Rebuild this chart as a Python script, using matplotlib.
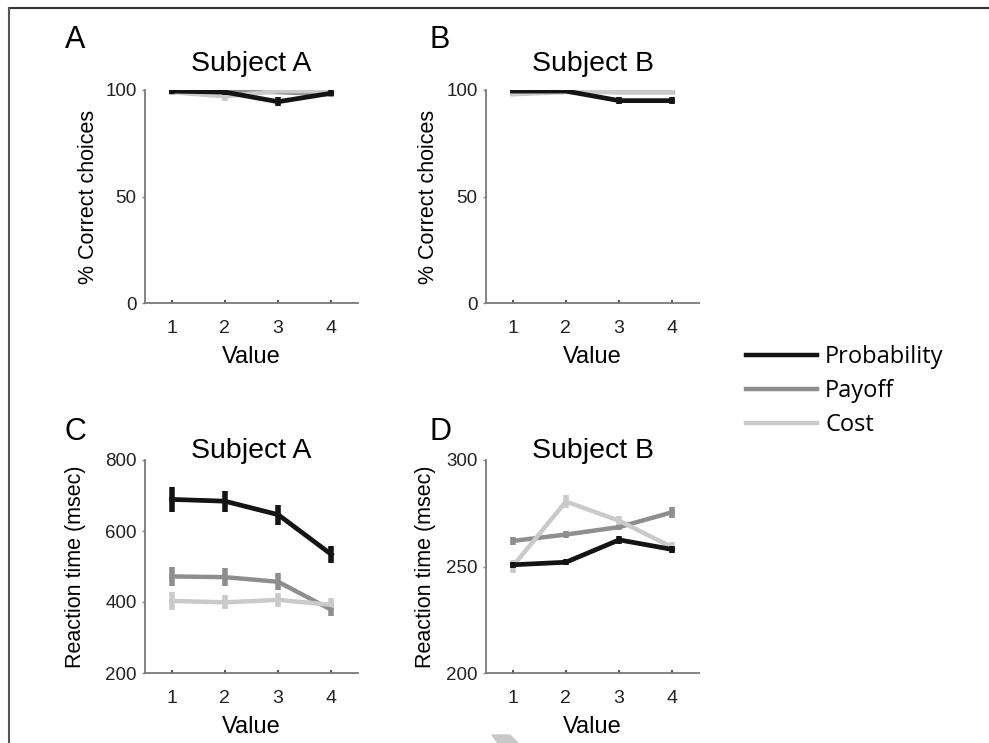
import matplotlib
matplotlib.use("Agg")
import matplotlib.pyplot as plt
from matplotlib.lines import Line2D
from matplotlib.patches import Polygon
import numpy as np

plt.rcParams['font.family'] = ['Liberation Sans', 'DejaVu Sans']

# data
values = [1, 2, 3, 4]
series = ['Probability', 'Payoff', 'Cost']
colors = {'Probability': '#141414', 'Payoff': '#8e8e8e', 'Cost': '#cacaca'}

# % correct choices
correct_a = {'Probability': [99.5, 99.0, 94.5, 98.5],
             'Payoff': [99.0, 99.5, 99.0, 98.0],
             'Cost': [99.0, 97.0, 99.5, 99.5]}
correct_a_err = {'Probability': [1.5, 1.5, 2.0, 1.5],
                 'Payoff': [1.0, 1.0, 1.0, 1.5],
                 'Cost': [1.5, 2.0, 1.0, 1.0]}
correct_b = {'Probability': [99.5, 99.5, 95.0, 95.0],
             'Payoff': [98.5, 100.0, 99.0, 99.0],
             'Cost': [98.0, 99.0, 99.0, 99.0]}
correct_b_err = {'Probability': [1.0, 1.0, 1.5, 1.5],
                 'Payoff': [1.0, 0.5, 0.5, 0.5],
                 'Cost': [1.0, 0.5, 0.5, 0.5]}

# reaction times (msec)
rt_a = {'Probability': [689, 684, 646, 534],
        'Payoff': [472, 470, 457, 378],
        'Cost': [403, 399, 406, 392]}
rt_a_err = {'Probability': [35, 30, 28, 24],
            'Payoff': [28, 26, 24, 18],
            'Cost': [25, 20, 20, 18]}
rt_b = {'Probability': [250.8, 252.0, 262.5, 258.0],
        'Payoff': [262.0, 265.0, 268.5, 275.5],
        'Cost': [250.0, 280.5, 271.5, 259.0]}
rt_b_err = {'Probability': [1.5, 1.5, 2.0, 1.5],
            'Payoff': [2.0, 1.5, 1.5, 2.5],
            'Cost': [3.0, 3.0, 2.0, 2.5]}

W, H = 989, 743
fig = plt.figure(figsize=(W / 100, H / 100), dpi=100)


def rect(x0, x1, ytop, ybot):
    return [x0 / W, 1 - ybot / H, (x1 - x0) / W, (ybot - ytop) / H]


def draw_panel(pos, data, err, ylim, yticks):
    ax = fig.add_axes(pos)
    for name in series:
        lw = 3.4 if name == 'Probability' else 3.2
        ax.errorbar(values, data[name], yerr=err[name], color=colors[name],
                    lw=lw, elinewidth=4, capsize=0, zorder=3 if name == 'Probability' else 2)
    ax.set_xlim(0.5, 4.5)
    ax.set_ylim(*ylim)
    ax.set_xticks(values)
    ax.set_yticks(yticks)
    for s in ['top', 'right']:
        ax.spines[s].set_visible(False)
    for s in ['left', 'bottom']:
        ax.spines[s].set_color('#7a7a7a')
        ax.spines[s].set_linewidth(1.3)
    ax.tick_params(axis='x', direction='in', length=2, width=1.5, color='#555555',
                   labelsize=14, pad=12, labelcolor='#222222')
    ax.tick_params(axis='y', direction='out', length=2, width=1, color='#888888',
                   labelsize=13.5, pad=4, labelcolor='#222222')
    ax.set_xlabel('Value', fontsize=17, labelpad=7)
    return ax


ax_a = draw_panel(rect(145, 358, 90, 303), correct_a, correct_a_err, (0, 100), [0, 50, 100])
ax_b = draw_panel(rect(486, 699, 90, 303), correct_b, correct_b_err, (0, 100), [0, 50, 100])
ax_c = draw_panel(rect(145, 358, 460, 673), rt_a, rt_a_err, (200, 800), [200, 400, 600, 800])
ax_d = draw_panel(rect(486, 699, 460, 673), rt_b, rt_b_err, (200, 300), [200, 250, 300])

# titles, panel letters, y labels
for ax, title, ybase in [(ax_a, 'Subject A', 71), (ax_b, 'Subject B', 71),
                         (ax_c, 'Subject A', 458), (ax_d, 'Subject B', 458)]:
    p = ax.get_position()
    fig.text(p.x0 + p.width / 2, 1 - ybase / H, title, ha='center', va='baseline', fontsize=20.5)

letter_font = ['Liberation Sans Narrow', 'Liberation Sans']
for letter, x, y in [('A', 75, 40), ('B', 440, 40), ('C', 75, 432), ('D', 440, 432)]:
    fig.text(x / W, 1 - y / H, letter, ha='center', va='center', fontsize=22,
             family=letter_font)

fig.text(88 / W, 1 - 197 / H, '% Correct choices', rotation=90, ha='center', va='center', fontsize=15.5)
fig.text(428 / W, 1 - 197 / H, '% Correct choices', rotation=90, ha='center', va='center', fontsize=15.5)
fig.text(75 / W, 1 - 567 / H, 'Reaction time (msec)', rotation=90, ha='center', va='center', fontsize=15.5)
fig.text(426 / W, 1 - 567 / H, 'Reaction time (msec)', rotation=90, ha='center', va='center', fontsize=15.5)

# legend
handles = [Line2D([], [], color=colors[n], lw=3.2) for n in series]
fig.legend(handles, series, loc='center left', bbox_to_anchor=(746 / W, 1 - 391 / H),
           frameon=False, handlelength=3.0, handletextpad=0.35,
           labelspacing=0.42, borderpad=0, borderaxespad=0,
           prop={'family': ['Open Sans', 'DejaVu Sans'], 'size': 17})

# page frame (top and left edges of the page border)
fig.add_artist(Line2D([9 / W, 1], [1 - 8 / H, 1 - 8 / H], color='#333333', lw=1.5))
fig.add_artist(Line2D([9 / W, 9 / W], [0, 1 - 8 / H], color='#555555', lw=1.5))

# small gray watermark fragment at the bottom edge
fig.add_artist(Polygon([[492 / W, 1 - 735 / H], [510 / W, 1 - 735 / H],
                        [518 / W, 1 - 743 / H], [498 / W, 1 - 743 / H]],
                       closed=True, color='#c8c8c8', transform=fig.transFigure))

fig.savefig('out.png', dpi=100)
